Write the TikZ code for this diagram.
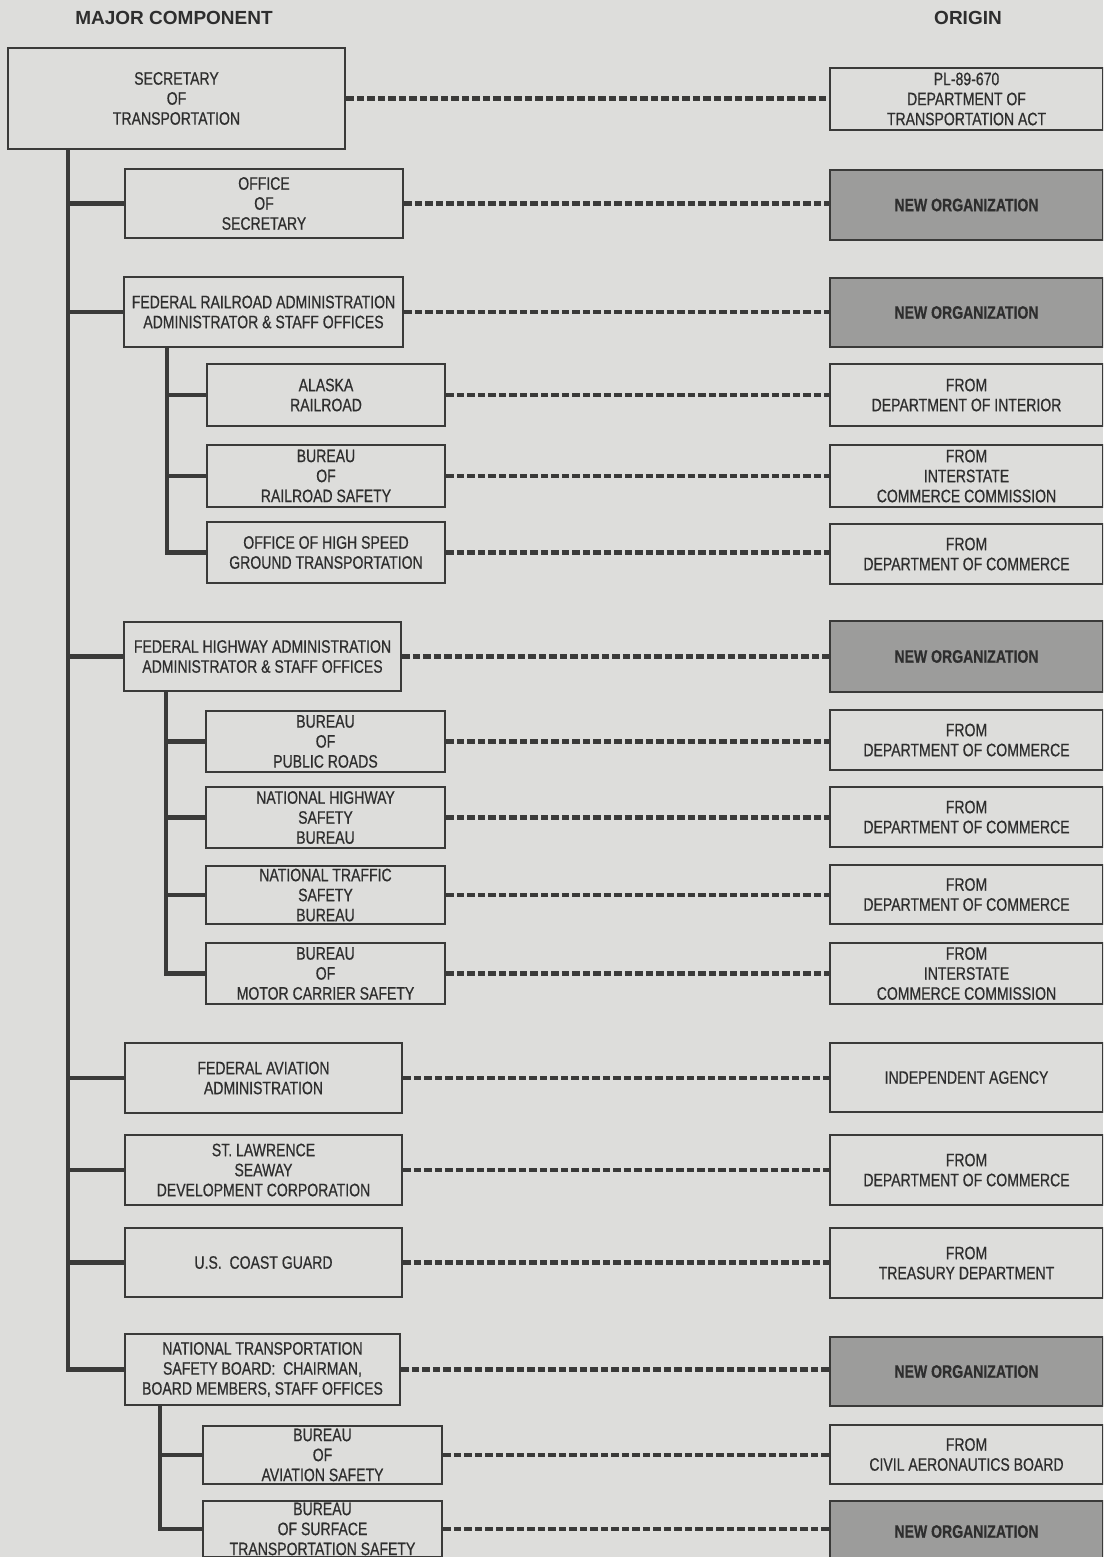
\documentclass[tikz,border=0pt]{standalone}
\usepackage{fontspec}
\setmainfont{Liberation Sans}
\newfontfamily\boxfont{Liberation Sans}[FakeStretch=0.78,FakeBold=0.6]
\definecolor{paper}{HTML}{DDDDDB}
\definecolor{shade}{HTML}{9C9C9B}
\definecolor{ink}{HTML}{3A3A39}
\definecolor{txt}{HTML}{2E2E2E}
\tikzset{
  box/.style={draw=ink, line width=2.6pt, fill=paper, inner sep=0pt, align=center, text=txt,
              font=\boxfont\fontsize{18}{20}\selectfont},
  newbox/.style={box, fill=shade, font=\boxfont\bfseries\fontsize{18}{20}\selectfont},
  sz/.style 2 args={minimum width=#1pt, minimum height=#2pt},
  trunk/.style={draw=ink, line width=4.6pt, line join=miter},
  dotline/.style={draw=ink, line width=4.2pt, dash pattern=on 7.5pt off 3pt},
  hdr/.style={font=\bfseries\fontsize{19}{22}\selectfont, text=txt, inner sep=0pt}
}
\begin{document}
\begin{tikzpicture}[x=1pt, y=-1pt]
\useasboundingbox (0,0) rectangle (1103,1557);
\fill[paper] (0,0) rectangle (1103,1557);
\clip (0,0) rectangle (1103,1557);

% headers
\node[hdr] (hdrL) at (174,18) {MAJOR COMPONENT};
\node[hdr] (hdrR) at (968,18) {ORIGIN};

% left column
\node[box, sz={337}{101}] (sec)  at (176.5,98.5) {SECRETARY\\OF\\TRANSPORTATION};
\node[box, sz={278}{69}]  (ofs)  at (264,203.5)  {OFFICE\\OF\\SECRETARY};
\node[box, sz={279}{70}]  (fra)  at (263.5,312)  {FEDERAL RAILROAD ADMINISTRATION\\ADMINISTRATOR \& STAFF OFFICES};
\node[box, sz={238}{62}]  (ark)  at (326,395)    {ALASKA\\RAILROAD};
\node[box, sz={238}{62}]  (brs)  at (326,476)    {BUREAU\\OF\\RAILROAD SAFETY};
\node[box, sz={238}{61}]  (hsg)  at (326,552.5)  {OFFICE OF HIGH SPEED\\GROUND TRANSPORTATION};
\node[box, sz={277}{69}]  (fhw)  at (262.5,656.5){FEDERAL HIGHWAY ADMINISTRATION\\ADMINISTRATOR \& STAFF OFFICES};
\node[box, sz={239}{61}]  (bpr)  at (325.5,741.5){BUREAU\\OF\\PUBLIC ROADS};
\node[box, sz={239}{61}]  (nhs)  at (325.5,817.5){NATIONAL HIGHWAY\\SAFETY\\BUREAU};
\node[box, sz={239}{58}]  (nts)  at (325.5,895)  {NATIONAL TRAFFIC\\SAFETY\\BUREAU};
\node[box, sz={239}{61}]  (bmc)  at (325.5,973.5){BUREAU\\OF\\MOTOR CARRIER SAFETY};
\node[box, sz={277}{70}]  (faa)  at (263.5,1078) {FEDERAL AVIATION\\ADMINISTRATION};
\node[box, sz={277}{70}]  (stl)  at (263.5,1170) {ST. LAWRENCE\\SEAWAY\\DEVELOPMENT CORPORATION};
\node[box, sz={277}{69}]  (usc)  at (263.5,1262.5){U.S.\ \ COAST GUARD};
\node[box, sz={275}{71}]  (ntb)  at (262.5,1369.5){NATIONAL TRANSPORTATION\\SAFETY BOARD:\ \ CHAIRMAN,\\BOARD MEMBERS, STAFF OFFICES};
\node[box, sz={239}{58}]  (bas)  at (322.5,1455) {BUREAU\\OF\\AVIATION SAFETY};
\node[box, sz={239}{56}]  (bst)  at (322.5,1529) {BUREAU\\OF SURFACE\\TRANSPORTATION SAFETY};

% right column
\node[box, sz={273}{62}]    (osec) at (966.5,99)    {PL-89-670\\DEPARTMENT OF\\TRANSPORTATION ACT};
\node[newbox, sz={273}{70}] (oofs) at (966.5,205)   {NEW ORGANIZATION};
\node[newbox, sz={273}{69}] (ofra) at (966.5,312.5) {NEW ORGANIZATION};
\node[box, sz={273}{62}]    (oark) at (966.5,395)   {FROM\\DEPARTMENT OF INTERIOR};
\node[box, sz={273}{62}]    (obrs) at (966.5,476)   {FROM\\INTERSTATE\\COMMERCE COMMISSION};
\node[box, sz={273}{60}]    (ohsg) at (966.5,554)   {FROM\\DEPARTMENT OF COMMERCE};
\node[newbox, sz={273}{71}] (ofhw) at (966.5,656.5) {NEW ORGANIZATION};
\node[box, sz={273}{60}]    (obpr) at (966.5,740)   {FROM\\DEPARTMENT OF COMMERCE};
\node[box, sz={273}{60}]    (onhs) at (966.5,817)   {FROM\\DEPARTMENT OF COMMERCE};
\node[box, sz={273}{59}]    (onts) at (966.5,894.5) {FROM\\DEPARTMENT OF COMMERCE};
\node[box, sz={273}{61}]    (obmc) at (966.5,973.5) {FROM\\INTERSTATE\\COMMERCE COMMISSION};
\node[box, sz={273}{69}]    (ofaa) at (966.5,1077.5){INDEPENDENT AGENCY};
\node[box, sz={273}{70}]    (ostl) at (966.5,1170)  {FROM\\DEPARTMENT OF COMMERCE};
\node[box, sz={273}{70}]    (ousc) at (966.5,1263)  {FROM\\TREASURY DEPARTMENT};
\node[newbox, sz={273}{69}] (ontb) at (966.5,1371.5){NEW ORGANIZATION};
\node[box, sz={273}{59}]    (obas) at (966.5,1454.5){FROM\\CIVIL AERONAUTICS BOARD};
\node[newbox, sz={273}{61}] (obst) at (966.5,1531.5){NEW ORGANIZATION};

% trunks
\coordinate (t0) at (68,149);
\coordinate (t1) at (167,347);
\coordinate (t2) at (166,691);
\coordinate (t3) at (160,1405);
\draw[trunk] (t0) |- (ntb.west);
\foreach \n in {ofs,fra,fhw,faa,stl,usc} \draw[trunk] (\n.west) -- (\n.west -| t0);
\draw[trunk] (t1) |- (hsg.west);
\foreach \n in {ark,brs} \draw[trunk] (\n.west) -- (\n.west -| t1);
\draw[trunk] (t2) |- (bmc.west);
\foreach \n in {bpr,nhs,nts} \draw[trunk] (\n.west) -- (\n.west -| t2);
\draw[trunk] (t3) |- (bst.west);
\draw[trunk] (bas.west) -- (bas.west -| t3);

% dotted origin connectors
\foreach \a/\b in {sec/osec,ofs/oofs,fra/ofra,ark/oark,brs/obrs,hsg/ohsg,fhw/ofhw,bpr/obpr,nhs/onhs,nts/onts,bmc/obmc,faa/ofaa,stl/ostl,usc/ousc,ntb/ontb,bas/obas,bst/obst}
  \draw[dotline] (\a.east) -- (\a.east -| \b.west);
\end{tikzpicture}
\end{document}
